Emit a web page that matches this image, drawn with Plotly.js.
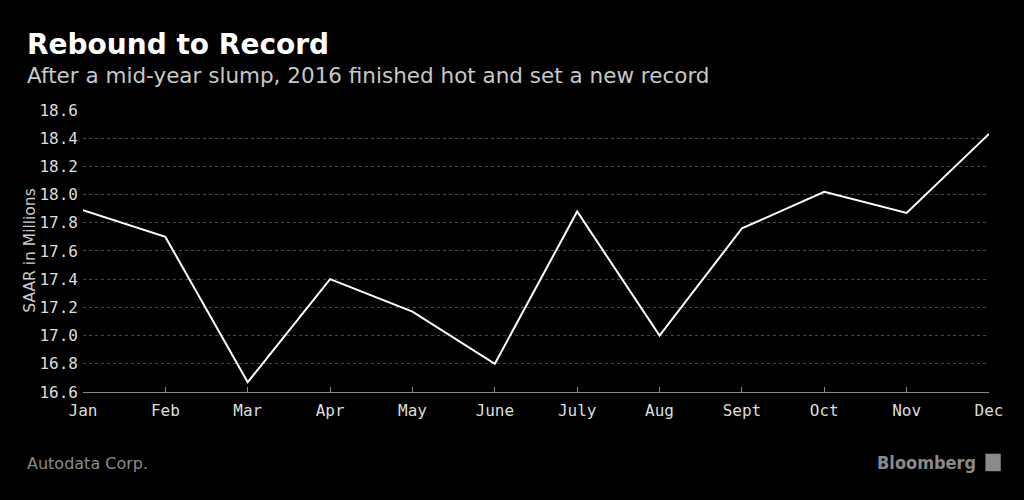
<!DOCTYPE html>
<html>
<head>
<meta charset="utf-8">
<script src="https://cdn.plot.ly/plotly-3.0.1.min.js"></script>
<style>html,body{margin:0;padding:0;background:#000;}#chart{width:1024px;height:500px;}</style>
</head>
<body>
<div id="chart"></div>
<script>
var months = ["Jan","Feb","Mar","Apr","May","June","July","Aug","Sept","Oct","Nov","Dec"];
var saar = [17.89, 17.70, 16.67, 17.40, 17.17, 16.80, 17.88, 17.00, 17.76, 18.02, 17.87, 18.43];
var yTicks = [16.6, 16.8, 17.0, 17.2, 17.4, 17.6, 17.8, 18.0, 18.2, 18.4, 18.6];

var trace = {
  x: months.map(function(_, i){ return i; }),
  y: saar,
  type: "scatter",
  mode: "lines",
  line: {color: "#ffffff", width: 2},
  hoverinfo: "skip"
};

var layout = {
  width: 1024, height: 500,
  paper_bgcolor: "#000", plot_bgcolor: "#000",
  margin: {l: 83, r: 35, t: 109, b: 108},
  showlegend: false,
  font: {family: "DejaVu Sans Mono", color: "#ddd", size: 16},
  xaxis: {
    range: [0, 11],
    tickvals: months.map(function(_, i){ return i; }),
    ticktext: months,
    showgrid: false, zeroline: false,
    showline: true, linecolor: "#888", linewidth: 1,
    ticks: "inside", ticklen: 5, tickcolor: "#888",
    ticklabelstandoff: 4,
    tickfont: {family: "DejaVu Sans Mono", size: 16, color: "#ddd"},
    fixedrange: true
  },
  yaxis: {
    range: [16.6, 18.607],
    tickvals: yTicks,
    ticktext: yTicks.map(function(v){ return v.toFixed(1); }),
    showgrid: true, gridcolor: "#4a4a4a", griddash: "dot", gridwidth: 1,
    zeroline: false, showline: false, ticks: "",
    ticklabelstandoff: 4,
    tickfont: {family: "DejaVu Sans Mono", size: 16, color: "#ddd"},
    title: {text: "SAAR in Millions", font: {family: "DejaVu Sans", size: 15.5, color: "#ccc"}, standoff: 0},
    fixedrange: true
  },
  annotations: [
    {xref: "paper", yref: "paper", x: -0.064, y: 1.228, xanchor: "left", yanchor: "middle",
     text: "<b>Rebound to Record</b>", showarrow: false,
     font: {family: "DejaVu Sans", size: 28, color: "#fff"}},
    {xref: "paper", yref: "paper", x: -0.064, y: 1.117, xanchor: "left", yanchor: "middle",
     text: "After a mid-year slump, 2016 finished hot and set a new record", showarrow: false,
     font: {family: "DejaVu Sans", size: 21.5, color: "#c8c8c8"}},
    {xref: "paper", yref: "paper", x: -0.064, y: -0.252, xanchor: "left", yanchor: "middle",
     text: "Autodata Corp.", showarrow: false,
     font: {family: "DejaVu Sans", size: 16, color: "#8a8a8a"}},
    {xref: "paper", yref: "paper", x: 0.988, y: -0.248, xanchor: "right", yanchor: "middle",
     text: "<b>Bloomberg</b>", showarrow: false,
     font: {family: "DejaVu Sans Condensed", size: 18, color: "#8a8a8a"}}
  ],
  shapes: [
    {type: "rect", xref: "paper", yref: "paper", x0: 0.996, x1: 1.013, y0: -0.28, y1: -0.218,
     fillcolor: "#8a8a8a", line: {width: 0}}
  ]
};

Plotly.newPlot("chart", [trace], layout, {displayModeBar: false, staticPlot: true});
</script>
</body>
</html>
